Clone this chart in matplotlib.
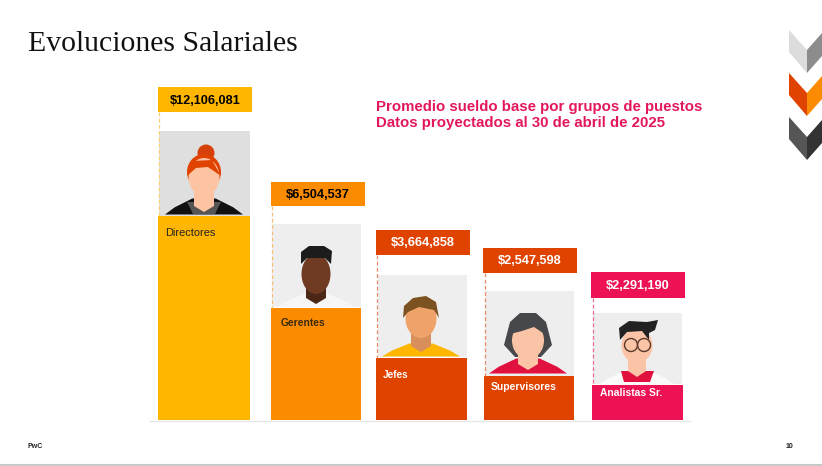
import matplotlib
matplotlib.use("Agg")
import matplotlib.pyplot as plt
from matplotlib.patches import Rectangle, Polygon, Ellipse, Circle

# ---------- data ----------
categories = ["Directores", "Gerentes", "Jefes", "Supervisores", "Analistas Sr."]
salaries = [12106081, 6504537, 3664858, 2547598, 2291190]
bar_heights = [12106081, 6650000, 3680000, 2610000, 2080000]   # heights as drawn in the picture
salary_labels = ["$12,106,081", "$6,504,537", "$3,664,858", "$2,547,598", "$2,291,190"]

# ---------- layout (pixels) ----------
W, H = 822, 466
BASE = 420
PX_PER_UNIT = 16.85 / 1e6
bar_left = [158, 271, 376, 484, 592]
bar_w = [92, 90, 91, 90, 91]
box_left = [158, 271, 376, 483, 591]
box_w = 94
box_top = [87, 182, 230, 248, 272]
box_h = [25, 24, 25, 25, 26]
photo_left = [159, 272, 378, 485, 593]
photo_top = [131, 224, 275, 291, 313]
photo_w = [91, 89, 89, 89, 89]
photo_bg = ["#dfdfdf", "#eeeeee", "#eeeeee", "#eeeeee", "#eeeeee"]
colors = ["#FFB600", "#FB8B00", "#E04300", "#E04300", "#EC1253"]
label_colors = ["black", "black", "white", "white", "white"]
name_colors = ["#222222", "#3a2a10", "white", "white", "white"]
name_x = [165, 281, 383, 491, 600]
name_y = [232.5, 322.5, 375.5, 386.5, 393.5]
name_sizes = [7.9, 7.4, 7.2, 7.5, 7.4]

plt.rcParams["font.family"] = ["Liberation Sans", "DejaVu Sans"]
fig = plt.figure(figsize=(W / 100, H / 100), dpi=100, facecolor="white")

# bar axes: y in salary units, x in pixels, same frame as the figure
bx = fig.add_axes([0, 0, 1, 1], zorder=1)
bx.set_xlim(0, W)
bx.set_ylim(-(H - BASE) / PX_PER_UNIT, BASE / PX_PER_UNIT)
bx.axis("off")
bx.bar(bar_left, bar_heights, width=bar_w, align="edge", color=colors, linewidth=0, zorder=3)

# pixel canvas for decoration, on top of the bars
ax = fig.add_axes([0, 0, 1, 1], zorder=2, facecolor="none")
ax.set_xlim(0, W)
ax.set_ylim(H, 0)
ax.axis("off")

ax.plot([150, 690], [420.8, 420.8], color="#e8e8e8", lw=1.0, zorder=1)


def poly(pts, color, z):
    ax.add_patch(Polygon(pts, closed=True, facecolor=color, edgecolor="none", zorder=z))


def head(cx, top, chin, half, skin):
    """Rounded face as ellipse plus jaw."""
    mid = (top + chin) / 2
    ax.add_patch(Ellipse((cx, mid), 2 * half, chin - top, facecolor=skin, edgecolor="none", zorder=5))


def neck(cx, y0, y1, half, skin, z=4.5):
    poly([(cx - half, y0), (cx + half, y0), (cx + half, y1 - 6), (cx, y1), (cx - half, y1 - 6)], skin, z)


def shoulders(cx, bottom, half, h, color):
    poly([(cx - half, bottom), (cx - half * 0.75, bottom - h * 0.45), (cx - half * 0.3, bottom - h),
          (cx + half * 0.3, bottom - h), (cx + half * 0.75, bottom - h * 0.45), (cx + half, bottom)], color, 3.5)


# photo backgrounds + dashed guide + value boxes
for i in range(5):
    top = BASE - bar_heights[i] * PX_PER_UNIT
    ax.add_patch(Rectangle((photo_left[i], photo_top[i]), photo_w[i], top - photo_top[i] - 0.5,
                           facecolor=photo_bg[i], edgecolor="none", zorder=2))
    ax.add_patch(Rectangle((box_left[i], box_top[i]), box_w, box_h[i], facecolor=colors[i], edgecolor="none", zorder=3))
    guide = ["#f5cf70", "#f6bd70", "#e58a66", "#e58a66", "#ea6a90"][i]
    ax.plot([bar_left[i] + 0.5] * 2, [box_top[i] + box_h[i], top], color=guide, lw=0.9, ls=(0, (3, 2)), zorder=4)
    ax.text(box_left[i] + box_w / 2 + (-0.5 if i else 0), box_top[i] + box_h[i] / 2 + 1, salary_labels[i], ha="center",
            va="center", fontsize=9.2, fontweight="bold", color=label_colors[i], zorder=6)
    ax.text(name_x[i], name_y[i], categories[i], ha="left", va="center", fontsize=name_sizes[i],
            fontweight="bold" if i else "normal", color=name_colors[i], zorder=6)

# --- Directores ---
c = 204
shoulders(c, 214.5, 39, 16, "#111111")
poly([(c - 17, 202), (c + 17, 202), (c + 11, 214), (c - 11, 214)], "#555555", 3.6)
ax.add_patch(Circle((c + 2, 153), 8.5, facecolor="#d6400a", edgecolor="none", zorder=4))
ax.add_patch(Ellipse((c, 172), 34, 36, facecolor="#e04300", edgecolor="none", zorder=4))
head(c, 158, 196, 15.5, "#FDC4A4")
neck(c, 190, 212, 10, "#FDC4A4")
poly([(c - 17, 176), (c - 12, 161), (c + 8, 160), (c + 17, 176), (c + 4, 167), (c - 8, 168)], "#e04300", 5.5)

# --- Gerentes ---
c = 316
shoulders(c, 307, 39, 13, "#f6f6f6")
head(c, 254, 294, 14.5, "#6E3A22")
neck(c, 288, 304, 10, "#4a2716")
poly([(c - 15, 264), (c - 15, 252), (c - 7, 246), (c + 8, 246), (c + 16, 251), (c + 15, 264),
      (c + 9, 258), (c - 9, 258)], "#1c1c1c", 5.5)

# --- Jefes ---
c = 421
shoulders(c, 356.5, 39, 13, "#FFB600")
head(c, 299, 338, 15.5, "#EFA36A")
neck(c, 332, 352, 10, "#D98F5C")
poly([(c - 18, 318), (c - 17, 306), (c - 8, 298), (c + 5, 296), (c + 15, 302), (c + 18, 318),
      (c + 13, 310), (c - 2, 307), (c - 13, 312)], "#7C5221", 5.5)

# --- Supervisores ---
c = 528
shoulders(c, 373.5, 39, 15, "#E0103F")
poly([(c - 24, 345), (c - 18, 322), (c - 8, 313), (c + 8, 313), (c + 18, 322), (c + 24, 345),
      (c + 13, 357), (c - 13, 357)], "#47484c", 4)
head(c, 322, 359, 16, "#FCC4A6")
neck(c, 352, 370, 10, "#FCC4A6")
poly([(c - 18, 334), (c - 10, 316), (c + 10, 316), (c + 18, 335), (c + 6, 327), (c - 6, 331)], "#47484c", 5.5)

# --- Analistas ---
c = 637
shoulders(c, 384.5, 38, 14, "#fafafa")
poly([(c - 16, 371), (c + 17, 371), (c + 13, 382), (c - 13, 382)], "#E0103F", 3.7)
head(c, 328, 363, 15.5, "#FCC4A6")
neck(c, 356, 377, 9, "#FCC4A6")
poly([(c - 17, 340), (c - 18, 328), (c - 8, 321), (c + 10, 322), (c + 21, 320), (c + 18, 330),
      (c + 12, 333), (c + 12, 340), (c + 5, 331), (c - 10, 332)], "#222222", 5.5)
for dx in (-6, 7):
    ax.add_patch(Circle((c + dx, 345), 6.5, fill=False, ec="#5a3a2a", lw=1, zorder=6))

# --- chevrons (logo) ---
chev = [(30, "#dcdcdc", "#8c8c8c"), (73, "#E04300", "#FB8B00"), (117, "#555555", "#333333")]
for y0, left, right in chev:
    poly([(789, y0), (807, y0 + 20), (807, y0 + 43), (789, y0 + 22)], left, 2)
    poly([(807, y0 + 20), (822, y0 + 3), (822, y0 + 26), (807, y0 + 43)], right, 2)

# --- text ---
ax.text(28, 44, "Evoluciones Salariales", fontfamily="Liberation Serif", fontsize=21.4, color="#111111",
        ha="left", va="center")
pink = "#E3175E"
ax.text(376, 106.5, "Promedio sueldo base por grupos de puestos", fontsize=10.8, fontweight="bold", color=pink, va="center")
ax.text(376, 123.5, "Datos proyectados al 30 de abril de 2025", fontsize=10.8, fontweight="bold", color=pink, va="center")
ax.text(27, 446, "PwC", fontsize=5, fontweight="bold", color="#222222", va="center")
ax.text(786, 446, "10", fontsize=5, fontweight="bold", color="#222222", va="center")
ax.plot([0, W], [464.5, 464.5], color="#c8c8c8", lw=1.5)

fig.savefig("out.png", dpi=100)
